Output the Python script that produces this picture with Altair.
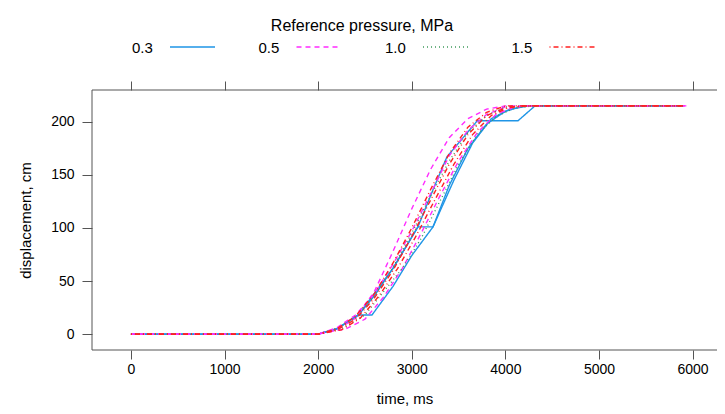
import altair as alt
import pandas as pd

pressures = ["0.3", "0.5", "1.0", "1.5"]
colors = ["#1f95e6", "#ff2bff", "#3f9a5c", "#ff2020"]
dashes = [[1, 0], [5, 4], [1, 3], [1, 3, 5, 3]]

x_ticks = [0, 1000, 2000, 3000, 4000, 5000, 6000]
y_ticks = [0, 50, 100, 150, 200]

# 0.3 MPa trials
b1_t = [0, 2000, 2200, 2430, 2600, 2800, 3066, 3227, 3376, 3700, 4135, 4316, 5900]
b1_d = [0, 0, 5, 18, 36, 62, 101, 136, 167, 201, 201, 215, 215]
b2_t = [0, 2000, 2200, 2430, 2575, 2800, 3000, 3227, 3400, 3600, 3800, 4000, 4200, 5900]
b2_d = [0, 0, 5, 18, 18, 45, 74, 101, 140, 175, 198, 210, 215, 215]
b3_t = [0, 2000, 2200, 2430, 2800, 3066, 3227, 3450, 3650, 3850, 4050, 4250, 5900]
b3_d = [0, 0, 5, 18, 62, 101, 101, 145, 180, 203, 212, 215, 215]

# 0.5 MPa trials
m1_t = [0, 2000, 2200, 2400, 2600, 2800, 3000, 3200, 3400, 3600, 3800, 4000, 5950]
m1_d = [0, 0, 4, 15, 40, 78, 118, 155, 185, 203, 212, 215, 215]
m2_t = [0, 2000, 2200, 2400, 2600, 2800, 3000, 3200, 3400, 3600, 3800, 4000, 4200, 5950]
m2_d = [0, 0, 6, 18, 38, 66, 97, 132, 168, 192, 207, 214, 215, 215]
m3_t = [0, 2000, 2300, 2500, 2700, 2900, 3100, 3300, 3500, 3700, 3900, 4100, 4300, 5950]
m3_d = [0, 0, 5, 14, 35, 62, 95, 130, 163, 190, 207, 214, 215, 215]

# 1.0 MPa trials
g1_t = [0, 2000, 2250, 2500, 2700, 2900, 3100, 3300, 3500, 3700, 3900, 4100, 4300, 5900]
g1_d = [0, 0, 5, 18, 40, 62, 90, 125, 160, 188, 205, 213, 215, 215]
g2_t = [0, 2000, 2200, 2400, 2600, 2800, 3000, 3200, 3400, 3600, 3800, 4000, 4200, 5900]
g2_d = [0, 0, 5, 16, 36, 63, 95, 130, 163, 190, 206, 214, 215, 215]

# 1.5 MPa trials
r1_t = [0, 2000, 2200, 2400, 2600, 2800, 3000, 3200, 3400, 3600, 3800, 4000, 4200, 5900]
r1_d = [0, 0, 4, 14, 34, 60, 92, 126, 160, 188, 206, 213, 215, 215]
r2_t = [0, 2000, 2250, 2450, 2650, 2850, 3050, 3250, 3450, 3650, 3850, 4050, 4250, 5900]
r2_d = [0, 0, 4, 15, 36, 62, 93, 127, 160, 188, 206, 214, 215, 215]
r3_t = [0, 2000, 2200, 2400, 2600, 2800, 3000, 3200, 3400, 3600, 3800, 4000, 5900]
r3_d = [0, 0, 5, 17, 38, 67, 100, 136, 170, 195, 209, 215, 215]

trials = [
    ("0.3", "b1", b1_t, b1_d), ("0.3", "b2", b2_t, b2_d), ("0.3", "b3", b3_t, b3_d),
    ("0.5", "m1", m1_t, m1_d), ("0.5", "m2", m2_t, m2_d), ("0.5", "m3", m3_t, m3_d),
    ("1.0", "g1", g1_t, g1_d), ("1.0", "g2", g2_t, g2_d),
    ("1.5", "r1", r1_t, r1_d), ("1.5", "r2", r2_t, r2_d), ("1.5", "r3", r3_t, r3_d),
]

rows = []
for p, name, ts, ds in trials:
    for i, (t, d) in enumerate(zip(ts, ds)):
        rows.append({"p": p, "trial": name, "t": t, "d": d, "i": i})
df = pd.DataFrame(rows)

# legend table (lattice-style key: label, then line sample)
leg = pd.DataFrame({"p": pressures})
leg["k"] = range(len(pressures))
leg["lx"] = 40 + 126.5 * leg["k"]
leg["sx"] = leg["lx"] + 38
leg["sx2"] = leg["sx"] + 45

FONT = "Liberation Sans"
W, H = 625, 260
FRAME = "#555"
x_scale = alt.Scale(domain=[-416, 6261], nice=False, zero=False)
y_scale = alt.Scale(domain=[-15, 230], nice=False, zero=False)
color_scale = alt.Scale(domain=pressures, range=colors)
dash_scale = alt.Scale(domain=pressures, range=dashes)

lines = alt.Chart(df).mark_line(strokeWidth=1.4).encode(
    x=alt.X("t:Q", scale=x_scale,
            axis=alt.Axis(values=x_ticks, format="d", title="time, ms", tickSize=9, labelPadding=3,
                          titleY=48, titleBaseline="middle")),
    y=alt.Y("d:Q", scale=y_scale,
            axis=alt.Axis(values=y_ticks, format="d", title="displacement, cm", tickSize=10, labelPadding=8,
                          titleX=-67, titleY=130, titleBaseline="middle", titleAngle=-90)),
    color=alt.Color("p:N", scale=color_scale, legend=None),
    strokeDash=alt.StrokeDash("p:N", scale=dash_scale, legend=None),
    detail="trial:N",
    order="i:Q",
)

top = alt.Chart(df).mark_line(opacity=0).encode(
    x=alt.X("t:Q", scale=x_scale,
            axis=alt.Axis(orient="top", values=x_ticks, labels=False, title=None, tickSize=9)),
    y=alt.value(0),
)

one = leg[leg["k"] == 0]
frame_left = alt.Chart(one).mark_rule(color=FRAME, strokeWidth=1).encode(
    x=alt.value(0), y=alt.value(0), y2=alt.value(H))
frame_top = alt.Chart(one).mark_rule(color=FRAME, strokeWidth=1).encode(
    x=alt.value(0), x2=alt.value(W + 10), y=alt.value(0))
frame_bottom = alt.Chart(one).mark_rule(color=FRAME, strokeWidth=1).encode(
    x=alt.value(0), x2=alt.value(W + 10), y=alt.value(H))

leg_lines = alt.Chart(leg).mark_rule(strokeWidth=1.4).encode(
    x=alt.X("sx:Q", scale=None, axis=None),
    x2="sx2:Q",
    y=alt.value(-43),
    color=alt.Color("p:N", scale=color_scale, legend=None),
    strokeDash=alt.StrokeDash("p:N", scale=dash_scale, legend=None),
)

leg_labels = alt.Chart(leg).mark_text(
    align="left", baseline="middle", font=FONT, fontSize=15, color="black"
).encode(
    x=alt.X("lx:Q", scale=None, axis=None),
    y=alt.value(-42),
    text="p:N",
)

leg_title = alt.Chart(one).mark_text(
    align="center", baseline="middle", font=FONT, fontSize=16, color="black",
    text="Reference pressure, MPa",
).encode(
    x=alt.value(270),
    y=alt.value(-64),
)

chart = alt.layer(
    lines, top, frame_left, frame_top, frame_bottom, leg_lines, leg_labels, leg_title
).resolve_scale(
    x="independent"
).properties(
    width=W, height=H,
    padding={"left": 84, "top": 82, "right": 0, "bottom": 56},
    autosize=alt.AutoSizeParams(type="none"),
).configure_view(
    stroke=None
).configure_axis(
    labelFont=FONT, titleFont=FONT, labelFontSize=14, titleFontSize=15,
    titleFontWeight="normal", labelColor="black", titleColor="black",
    tickColor=FRAME, domain=False, grid=False,
)

chart.save("out.html", embed_options={"renderer": "svg", "actions": False})
